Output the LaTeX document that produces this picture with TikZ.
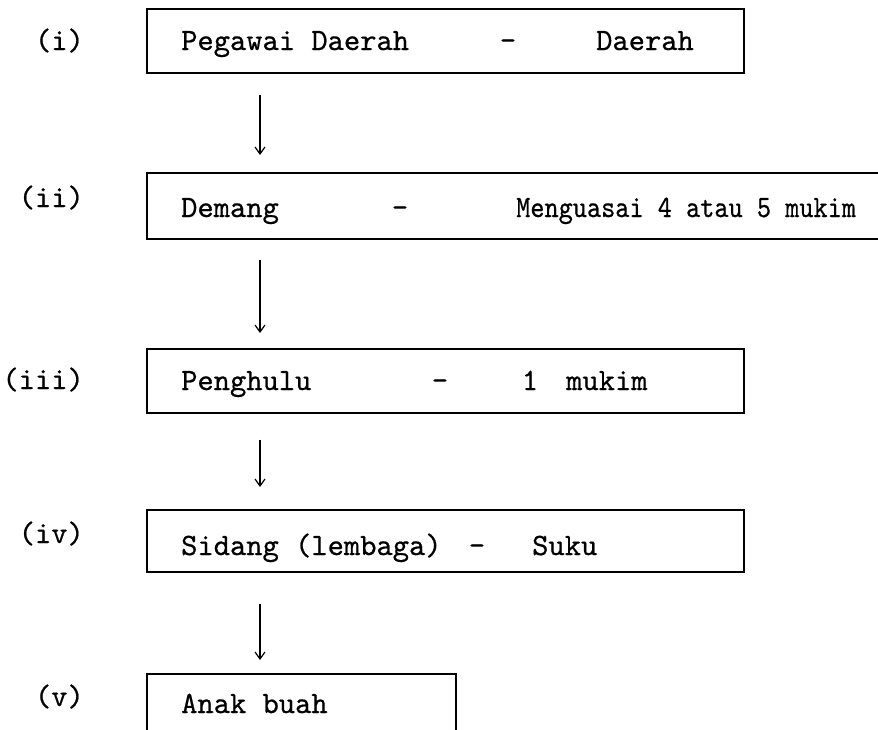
\documentclass[tikz,border=0pt]{standalone}
\usepackage{fontspec}
\usetikzlibrary{arrows.meta}
\newfontfamily\twfont{lmmono10-regular.otf}[FakeBold=0.6]
\begin{document}
\begin{tikzpicture}[x=1pt,y=-1pt,
  box/.style={draw=black, line width=1.5pt, inner sep=0pt, anchor=north west},
  txt/.style={anchor=base west, inner sep=0pt, font=\fontsize{31}{37}\selectfont\twfont},
  mid/.style={txt, anchor=base},
  lab/.style={txt, anchor=base east},
  arr/.style={line width=1.2pt, -{Straight Barb[length=7pt,width=10pt]}}]
\useasboundingbox (0,0) rectangle (878,729);
% boxes
\node[box, minimum width=597pt, minimum height=64pt] (b1) at (146,8) {};
\node[box, minimum width=760pt, minimum height=66pt] (b2) at (146,172) {};
\node[box, minimum width=597pt, minimum height=64pt] (b3) at (146,348) {};
\node[box, minimum width=597pt, minimum height=62pt] (b4) at (146,509) {};
\node[box, minimum width=309pt, minimum height=100pt] (b5) at (146,673) {};
% labels
\node[lab] (l1) at (84,50) {(i)};
\node[lab] (l2) at (84,207) {(ii)};
\node[lab] (l3) at (84,389) {(iii)};
\node[lab] (l4) at (84,543) {(iv)};
\node[lab] (l5) at (84,706) {(v)};
% row 1
\node[txt] (t1a) at (181,50) {Pegawai Daerah};
\node[mid] (t1d) at (508,50) {-};
\node[txt] (t1b) at (596,50) {Daerah};
% row 2
\node[txt] (t2a) at (181,217) {Demang};
\node[mid] (t2d) at (400,217) {-};
\node[txt] (t2b) at (516,217) {\scalebox{0.87}[1]{Menguasai 4 atau 5 mukim}};
% row 3
\node[txt] (t3a) at (181,390) {Penghulu};
\node[mid] (t3d) at (440,390) {-};
\node[mid] (t3n) at (530,390) {1};
\node[txt] (t3b) at (566,390) {mukim};
% row 4
\node[txt] (t4a) at (181,555) {Sidang (lembaga)};
\node[mid] (t4d) at (477,555) {-};
\node[txt] (t4b) at (532,555) {Suku};
% row 5
\node[txt] (t5a) at (181,713) {Anak buah};
% arrows
\draw[arr] ([shift={(114,21)}]b1.south west) -- ([shift={(114,-17)}]b2.north west);
\draw[arr] ([shift={(114,20)}]b2.south west) -- ([shift={(114,-15)}]b3.north west);
\draw[arr] ([shift={(114,26)}]b3.south west) -- ([shift={(114,-22)}]b4.north west);
\draw[arr] ([shift={(114,31)}]b4.south west) -- ([shift={(114,-13)}]b5.north west);
\end{tikzpicture}
\end{document}
